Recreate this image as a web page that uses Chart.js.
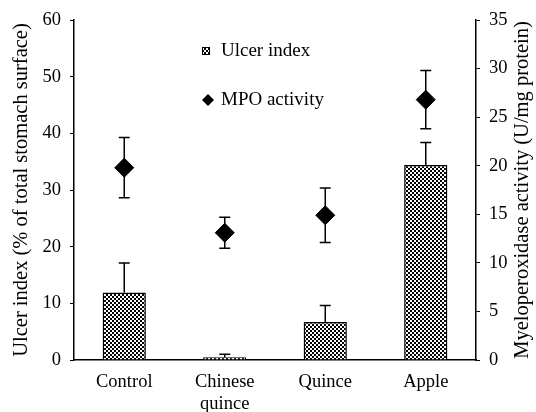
<!DOCTYPE html>
<html>
<head>
<meta charset="utf-8">
<script src="https://cdn.jsdelivr.net/npm/chart.js@4/dist/chart.umd.min.js"></script>
<style>
  html, body { margin: 0; padding: 0; background: #fff; }
  canvas { display: block; }
</style>
</head>
<body>
<canvas id="chart" width="536" height="412"></canvas>
<script>
const categories = [['Control'], ['Chinese', 'quince'], ['Quince'], ['Apple']];
const ulcerIndex = [11.9, 0.5, 6.7, 34.4];
const ulcerErr = [5.2, 0.5, 2.9, 4.0];
const mpoActivity = [19.8, 13.1, 14.9, 26.8];
const mpoErr = [3.1, 1.6, 2.8, 3.0];

const leftTicks = [0, 10, 20, 30, 40, 50, 60];
const rightTicks = [0, 5, 10, 15, 20, 25, 30, 35];

const leftTitle = 'Ulcer index (% of total stomach surface)';
const rightTitle = 'Myeloperoxidase activity (U/mg protein)';

const SERIF = '"Liberation Serif", "DejaVu Serif", serif';
const TICK_FONT = { family: SERIF, size: 18.5, lineHeight: 1.15 };
const LEGEND_SIZE = 19;
const TITLE_SIZE = 20.5;

function checkerPattern() {
    const c = document.createElement('canvas');
    c.width = 4; c.height = 4;
    const g = c.getContext('2d');
    g.fillStyle = '#fff';
    g.fillRect(0, 0, 4, 4);
    g.fillStyle = '#000';
    g.fillRect(0, 0, 2, 2);
    g.fillRect(2, 2, 2, 2);
    return g.createPattern(c, 'repeat');
}
const ctx = document.getElementById('chart').getContext('2d');
const pattern = checkerPattern();

// error bars drawn through the library's scales
const errorBars = {
    id: 'errorBars',
    afterDatasetsDraw(chart) {
        const c = chart.ctx;
        c.save();
        c.strokeStyle = '#000';
        c.lineWidth = 1.5;
        const cap = 5.5;
        chart.data.datasets.forEach((ds, i) => {
            const meta = chart.getDatasetMeta(i);
            const scale = chart.scales[ds.yAxisID];
            meta.data.forEach((el, j) => {
                const v = ds.data[j];
                const e = ds.errors[j];
                const x = el.x;
                const top = scale.getPixelForValue(v + e);
                const bottom = ds.type === 'bar' ? scale.getPixelForValue(v) : scale.getPixelForValue(v - e);
                c.beginPath();
                c.moveTo(x, bottom); c.lineTo(x, top);
                c.moveTo(x - cap, top); c.lineTo(x + cap, top);
                if (ds.type !== 'bar') {
                    c.moveTo(x - cap, bottom); c.lineTo(x + cap, bottom);
                }
                c.stroke();
            });
        });
        c.restore();
    }
};

// both axis titles read bottom-to-top, as in the original
const axisTitles = {
    id: 'axisTitles',
    afterDraw(chart) {
        const c = chart.ctx;
        const a = chart.chartArea;
        const cy = (a.top + a.bottom) / 2;
        c.save();
        c.font = TITLE_SIZE + 'px ' + SERIF;
        c.fillStyle = '#000';
        c.textAlign = 'center';
        c.textBaseline = 'middle';
        [[22, leftTitle], [523, rightTitle]].forEach(([x, t]) => {
            c.save();
            c.translate(x, cy);
            c.rotate(-Math.PI / 2);
            c.fillText(t, 0, 0);
            c.restore();
        });
        c.restore();
    }
};

// legend placed inside the plot like the original figure
const innerLegend = {
    id: 'innerLegend',
    afterDraw(chart) {
        const c = chart.ctx;
        c.save();
        c.font = LEGEND_SIZE + 'px ' + SERIF;
        c.textBaseline = 'middle';
        c.fillStyle = pattern;
        c.fillRect(202, 47, 7, 7);
        c.strokeStyle = '#000';
        c.lineWidth = 1;
        c.strokeRect(202.5, 47.5, 7, 7);
        c.fillStyle = '#000';
        c.fillText(chart.data.datasets[0].label, 221, 51);
        c.beginPath();
        c.moveTo(208, 94); c.lineTo(214, 100); c.lineTo(208, 106); c.lineTo(202, 100);
        c.closePath();
        c.fill();
        c.fillText(chart.data.datasets[1].label, 221, 100);
        c.restore();
    }
};

new Chart(ctx, {
    data: {
        labels: categories,
        datasets: [{
            type: 'bar',
            label: 'Ulcer index',
            data: ulcerIndex,
            errors: ulcerErr,
            yAxisID: 'y',
            backgroundColor: pattern,
            borderColor: '#000',
            borderWidth: 1.5,
            barPercentage: 0.43,
            categoryPercentage: 1,
            order: 2
        }, {
            type: 'line',
            label: 'MPO activity',
            data: mpoActivity,
            errors: mpoErr,
            yAxisID: 'y1',
            showLine: false,
            pointStyle: 'rectRot',
            pointRadius: 9.5,
            pointBackgroundColor: '#000',
            pointBorderColor: '#000',
            order: 1
        }]
    },
    options: {
        responsive: false,
        animation: false,
        layout: { padding: { top: 20, left: 0, right: 0, bottom: 0 } },
        plugins: {
            legend: { display: false },
            tooltip: { enabled: false }
        },
        scales: {
            x: {
                grid: { display: false, drawTicks: false },
                border: { color: '#000', width: 1.5 },
                ticks: { color: '#000', font: TICK_FONT, padding: 12, maxRotation: 0, autoSkip: false },
                afterFit(s) { s.height = 52; }
            },
            y: {
                position: 'left',
                min: 0, max: 60,
                afterBuildTicks(s) { s.ticks = leftTicks.map(v => ({ value: v })); },
                grid: { drawOnChartArea: false, tickLength: 4, color: '#000', tickWidth: 1 },
                border: { color: '#000', width: 1.5 },
                ticks: { color: '#000', font: TICK_FONT, padding: 9 },
                afterFit(s) { s.width = 74; }
            },
            y1: {
                position: 'right',
                min: 0, max: 35,
                afterBuildTicks(s) { s.ticks = rightTicks.map(v => ({ value: v })); },
                grid: { drawOnChartArea: false, tickLength: 4, color: '#000', tickWidth: 1 },
                border: { color: '#000', width: 1.5 },
                ticks: { color: '#000', font: TICK_FONT, padding: 9 },
                afterFit(s) { s.width = 60; }
            }
        }
    },
    plugins: [errorBars, axisTitles, innerLegend]
});
</script>
</body>
</html>
